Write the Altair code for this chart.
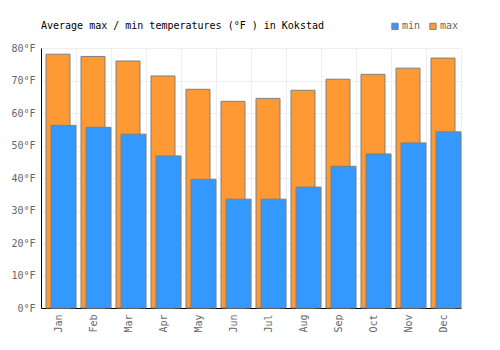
import altair as alt
import pandas as pd

months = ["Jan", "Feb", "Mar", "Apr", "May", "Jun", "Jul", "Aug", "Sep", "Oct", "Nov", "Dec"]
max_f = [78.1, 77.4, 76.0, 71.4, 67.3, 63.6, 64.5, 67.0, 70.4, 71.9, 73.8, 76.9]
min_f = [56.2, 55.6, 53.5, 46.8, 39.6, 33.5, 33.5, 37.2, 43.6, 47.4, 50.8, 54.2]

df_max = pd.DataFrame({"month": months, "value": max_f, "kind": "max"})
df_min = pd.DataFrame({"month": months, "value": min_f, "kind": "min"})

FONT = "DejaVu Sans Mono"

x = alt.X("month:N", sort=months, title=None,
          scale=alt.Scale(paddingInner=0, paddingOuter=0),
          axis=alt.Axis(labelAngle=-90, labelColor="#666666", labelFont=FONT,
                        labelFontSize=10, labelPadding=6, ticks=False,
                        domainColor="#000000", grid=True, gridColor="#eeeeee",
                        tickBand="extent"))
y = alt.Y("value:Q", title=None,
          scale=alt.Scale(domain=[0, 80], nice=False),
          axis=alt.Axis(values=[0, 10, 20, 30, 40, 50, 60, 70, 80],
                        labelExpr="datum.value + '°F'", labelColor="#666666",
                        labelFont=FONT, labelFontSize=10, labelPadding=6,
                        ticks=False, domainColor="#000000", gridColor="#eeeeee"))
color = alt.Color("kind:N",
                  scale=alt.Scale(domain=["min", "max"], range=["#3399ff", "#ff9933"]),
                  legend=alt.Legend(title=None, orient="none", direction="horizontal",
                                    legendX=349, legendY=-27, symbolType="square",
                                    symbolSize=40, symbolStrokeColor="#808080",
                                    symbolStrokeWidth=1, labelColor="#666666",
                                    labelFont=FONT, labelFontSize=10,
                                    columnPadding=6, labelOffset=2))

bars_max = alt.Chart(df_max).mark_bar(size=24, xOffset=-0.5, stroke="#808080",
                                      strokeWidth=1).encode(x=x, y=y, color=color)
bars_min = alt.Chart(df_min).mark_bar(size=25, xOffset=5, stroke="#808080",
                                      strokeWidth=1).encode(x=x, y=y, color=color)

chart = alt.layer(bars_max, bars_min).properties(
    width=420, height=260,
    autosize=alt.AutoSizeParams(type="none"),
    padding={"left": 41, "top": 48, "right": 39, "bottom": 42},
    title=alt.TitleParams("Average max / min temperatures (°F ) in Kokstad",
                          anchor="start", frame="group", font=FONT, fontSize=10,
                          fontWeight="normal", color="#000000", offset=16, dy=26),
).configure_view(stroke=None)

chart.save("out.html", embed_options={"renderer": "svg", "actions": False})
